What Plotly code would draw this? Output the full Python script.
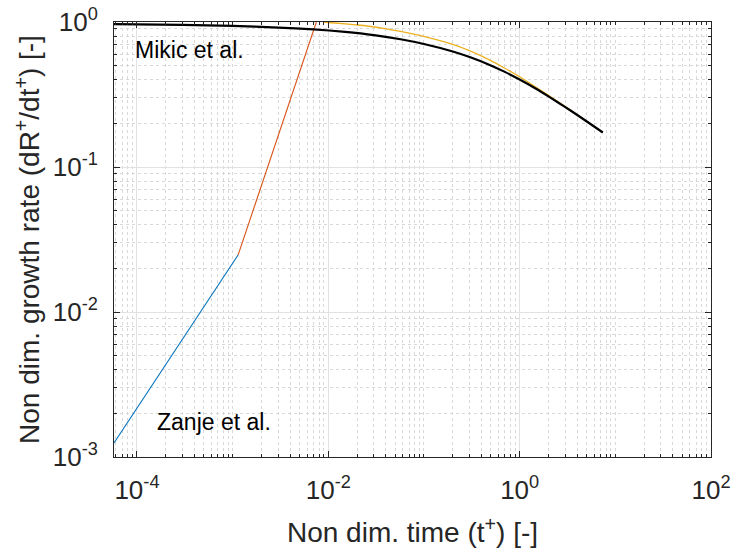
import plotly.graph_objects as go

# ---- data ----
blue_t = [5.75e-5, 1.14e-3]
blue_y = [1.25e-3, 0.0247]

orange_t = [1.14e-3, 7.5e-3]
orange_y = [0.0247, 1.0]

yellow_t = [0.0088, 0.0244, 0.0568, 0.092, 0.189, 0.307, 0.5, 0.7, 1.0, 1.5, 2.0, 3.0, 4.0, 5.5, 7.4]
yellow_y = [1.0, 0.942, 0.863, 0.806, 0.709, 0.630, 0.542, 0.480, 0.419, 0.353, 0.312, 0.2612,
            0.2295, 0.198, 0.173]

black_t = [5.75e-5, 1e-4, 3e-4, 1e-3, 3e-3, 7e-3, 0.015, 0.03, 0.057, 0.1, 0.2, 0.3,
           0.5, 0.7, 1.0, 1.5, 2.0, 3.0, 4.0, 5.5, 7.4]
black_y = [0.966, 0.963, 0.955, 0.940, 0.916, 0.890, 0.855, 0.812, 0.760, 0.705, 0.626,
           0.573, 0.502, 0.453, 0.401, 0.345, 0.307, 0.259, 0.2285, 0.198, 0.173]

x_tickvals = [1e-4, 1e-2, 1e0, 1e2]
x_ticktext = ["10<sup>-4</sup>", "10<sup>-2</sup>", "10<sup>0</sup>", "10<sup>2</sup>"]
y_tickvals = [1e-3, 1e-2, 1e-1, 1e0]
y_ticktext = ["10<sup>-3</sup>", "10<sup>-2</sup>", "10<sup>-1</sup>", "10<sup>0</sup>"]

x_minor = [k * 10.0 ** e for e in range(-5, 2) for k in range(1, 10)
           if not (k == 1 and 10.0 ** e in x_tickvals)]
y_minor = [k * 10.0 ** e for e in range(-3, 0) for k in range(2, 10)]

FONT = "Arial, Liberation Sans, Helvetica, sans-serif"
AX = "#262626"

fig = go.Figure()
fig.add_trace(go.Scatter(x=blue_t, y=blue_y, mode="lines",
                         line=dict(color="#0072BD", width=1.1), showlegend=False))
fig.add_trace(go.Scatter(x=orange_t, y=orange_y, mode="lines",
                         line=dict(color="#D95319", width=1.1), showlegend=False))
fig.add_trace(go.Scatter(x=yellow_t, y=yellow_y, mode="lines",
                         line=dict(color="#EDB120", width=1.3, shape="spline", smoothing=0.6),
                         showlegend=False))
fig.add_trace(go.Scatter(x=black_t, y=black_y, mode="lines",
                         line=dict(color="#000000", width=2.2, shape="spline", smoothing=0.6),
                         showlegend=False))

fig.add_annotation(x=-4.04, y=-0.19, xref="x", yref="y", text="Mikic et al.",
                   showarrow=False, xanchor="left", yanchor="middle",
                   font=dict(family=FONT, size=23, color="#000000"))
fig.add_annotation(x=-3.81, y=-2.76, xref="x", yref="y", text="Zanje et al.",
                   showarrow=False, xanchor="left", yanchor="middle",
                   font=dict(family=FONT, size=23, color="#000000"))

axis_common = dict(
    type="log", showline=True, linecolor=AX, linewidth=1, mirror="ticks",
    ticks="inside", ticklen=6, tickcolor=AX, tickwidth=1,
    showgrid=True, gridcolor="#e2e2e2", gridwidth=1, zeroline=False,
    tickfont=dict(family=FONT, size=26, color=AX), automargin=False,
    ticklabeloverflow="allow",
)

fig.update_xaxes(
    **axis_common, range=[-4.24, 2], tickmode="array",
    tickvals=x_tickvals, ticktext=x_ticktext,
    minor=dict(tickmode="array", tickvals=x_minor, ticks="inside", ticklen=3,
               tickcolor=AX, showgrid=True, gridcolor="#d8d8d8", griddash="dot", gridwidth=1),
    title=dict(text="Non dim. time (t<sup>+</sup>) [-]",
               font=dict(family=FONT, size=28, color=AX), standoff=18),
    ticklabelstandoff=10,
)
fig.update_yaxes(
    **axis_common, range=[-3, 0], tickmode="array",
    tickvals=y_tickvals, ticktext=y_ticktext,
    minor=dict(tickmode="array", tickvals=y_minor, ticks="inside", ticklen=3,
               tickcolor=AX, showgrid=True, gridcolor="#d8d8d8", griddash="dot", gridwidth=1),
    title=dict(text="Non dim. growth rate (dR<sup>+</sup>/dt<sup>+</sup>) [-]",
               font=dict(family=FONT, size=28, color=AX), standoff=4),
    ticklabelstandoff=10,
)

fig.update_layout(
    width=732, height=552,
    margin=dict(l=114, r=21, t=22, b=95),
    paper_bgcolor="white", plot_bgcolor="white",
    font=dict(family=FONT, color=AX),
)

# remove the browser's default 8px body margin so the figure fills the window exactly
fig.write_html("out.html", config={"displayModeBar": False},
               post_script="document.body.style.margin='0px';document.body.style.overflow='hidden';")
